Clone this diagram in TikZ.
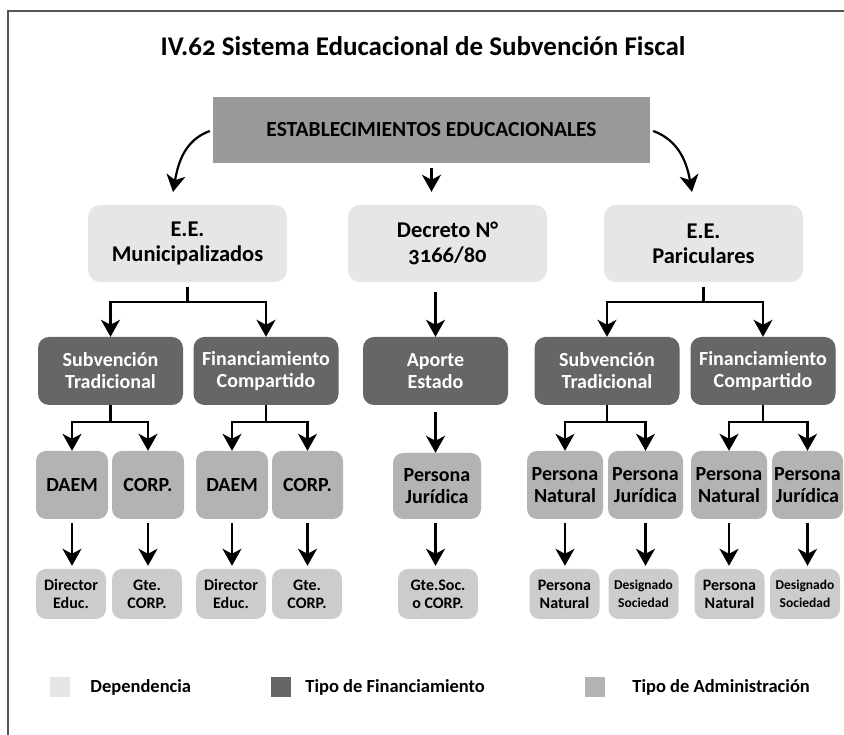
\documentclass[tikz,border=0pt]{standalone}
\usepackage{fontspec}
\setmainfont{Carlito}[Numbers=OldStyle]
\usetikzlibrary{arrows.meta, positioning, calc}
\definecolor{depgray}{HTML}{E6E6E6}
\definecolor{fingray}{HTML}{666666}
\definecolor{admgray}{HTML}{B3B3B3}
\definecolor{resgray}{HTML}{CCCCCC}
\definecolor{topgray}{HTML}{999999}
\definecolor{framegray}{HTML}{555555}

\tikzset{
  box/.style={align=center, inner sep=0pt},
  topbox/.style={box, fill=topgray, minimum width=437pt, minimum height=66pt, font=\fontsize{21.5}{24}\selectfont\bfseries},
  depbox/.style={box, fill=depgray, rounded corners=12pt, minimum width=199pt, minimum height=77pt, font=\fontsize{22.5}{25}\selectfont\bfseries},
  finbox/.style={box, fill=fingray, text=white, rounded corners=11pt, minimum width=145pt, minimum height=68pt, font=\fontsize{20}{22}\selectfont\bfseries},
  admbox/.style={box, fill=admgray, rounded corners=10pt, minimum height=68pt, font=\fontsize{20}{22}\selectfont\bfseries},
  resbox/.style={box, fill=resgray, rounded corners=10pt, minimum width=70pt, minimum height=50pt, font=\fontsize{16}{18}\selectfont\bfseries},
  legsq/.style={minimum size=20pt, inner sep=0pt},
  legtxt/.style={inner sep=0pt, font=\fontsize{18.5}{20}\selectfont\bfseries},
  link/.style={line width=2.2pt},
  arr/.style={link, -{Stealth[length=17pt, width=19pt, inset=5pt]}},
}

\begin{document}
\begin{tikzpicture}[x=1pt, y=1pt]
  \useasboundingbox (0,0) rectangle (844,735);
  % frame
  \draw[framegray, line width=2pt] (844,724) -- (8,724) -- (8,0);
  \node[font=\fontsize{27}{30}\selectfont\bfseries] (title) at (423,689) {IV.62 Sistema Educacional de Subvención Fiscal};

  \node[topbox] (estab) at (431.5,605) {ESTABLECIMIENTOS EDUCACIONALES};

  % Dependencia
  \node[depbox] (muni) at (187.5,491.5) {E.E.\\Municipalizados};
  \node[depbox] (decreto) at (447.5,491.5) {Decreto N°\\3166/80};
  \node[depbox] (part) at (703.5,491.5) {E.E.\\Pariculares};

  % Tipo de Financiamiento
  \node[finbox] (subvA) at (110.5,364) {Subvención\\Tradicional};
  \node[finbox] (finA) at (266,364) {Financiamiento\\Compartido};
  \node[finbox] (aporte) at (435.5,364) {Aporte\\Estado};
  \node[finbox] (subvB) at (607,364) {Subvención\\Tradicional};
  \node[finbox] (finB) at (763,364) {Financiamiento\\Compartido};

  % Tipo de Administracion
  \node[admbox, minimum width=72pt] (daemA) at (72,250) {DAEM};
  \node[admbox, minimum width=72pt] (corpA) at (148,250) {CORP.};
  \node[admbox, minimum width=72pt] (daemB) at (232,250) {DAEM};
  \node[admbox, minimum width=71pt] (corpB) at (307.5,250) {CORP.};
  \node[admbox, minimum width=88pt, minimum height=66pt] (jurC) at (437,249) {Persona\\Jurídica};
  \node[admbox, minimum width=76pt] (natA) at (565,250) {Persona\\Natural};
  \node[admbox, minimum width=75pt] (jurA) at (645.5,250) {Persona\\Jurídica};
  \node[admbox, minimum width=76pt] (natB) at (729,250) {Persona\\Natural};
  \node[admbox, minimum width=71pt] (jurB) at (807.5,250) {Persona\\Jurídica};

  % responsables
  \node[resbox] (dirA) at (71,141) {Director\\Educ.};
  \node[resbox] (gteA) at (147,141) {Gte.\\CORP.};
  \node[resbox] (dirB) at (231,141) {Director\\Educ.};
  \node[resbox] (gteB) at (307,141) {Gte.\\CORP.};
  \node[resbox, minimum width=80pt] (gteC) at (438,141) {Gte.Soc.\\o CORP.};
  \node[resbox] (pnA) at (564.5,141) {Persona\\Natural};
  \node[resbox, font=\fontsize{13.5}{18}\selectfont\bfseries] (desA) at (643.5,141) {Designado\\Sociedad};
  \node[resbox] (pnB) at (729.5,141) {Persona\\Natural};
  \node[resbox, font=\fontsize{13.5}{18}\selectfont\bfseries] (desB) at (805,141) {Designado\\Sociedad};

  % top level arrows
  \coordinate (ltip) at (173,543);
  \coordinate (rtip) at (692,543);
  \draw[arr] ([xshift=-3pt,yshift=-1pt]estab.west) to[out=200, in=80] (ltip);
  \draw[arr] ([xshift=3pt,yshift=-1pt]estab.east) to[out=-20, in=100] (rtip);
  \draw[arr, shorten <=5pt, shorten >=13pt] (estab.south) -- (estab.south |- decreto.north);

  % level 2 -> 3
  \draw[link] ([yshift=-5pt]muni.south) -- ++(0,-15) coordinate (mj);
  \draw[arr] (mj) -| (subvA.north);
  \draw[arr] (mj) -| (finA.north);
  \draw[arr, shorten <=10pt] (aporte.north |- decreto.south) -- (aporte.north);
  \draw[link] ([yshift=-5pt]part.south) -- ++(0,-15) coordinate (pj);
  \draw[arr] (pj) -| (subvB.north);
  \draw[arr] (pj) -| (finB.north);

  % level 3 -> 4
  \draw[link] (subvA.south) -- ++(0,-17) coordinate (sja);
  \draw[arr] (sja) -| (daemA.north);
  \draw[arr] (sja) -| (corpA.north);
  \draw[link] (finA.south) -- ++(0,-17) coordinate (fja);
  \draw[arr] (fja) -| (daemB.north);
  \draw[arr] (fja) -| (corpB.north);
  \draw[arr, shorten <=7pt] (aporte.south) -- (aporte.south |- jurC.north);
  \draw[link] (subvB.south) -- ++(0,-17) coordinate (sjb);
  \draw[arr] (sjb) -| (natA.north);
  \draw[arr] (sjb) -| (jurA.north);
  \draw[link] (finB.south) -- ++(0,-17) coordinate (fjb);
  \draw[arr] (fjb) -| (natB.north);
  \draw[arr] (fjb) -| (jurB.north);

  % level 4 -> 5
  \foreach \a/\b in {daemA/dirA, corpA/gteA, daemB/dirB, corpB/gteB, natA/pnA, jurA/desA, natB/pnB, jurB/desB}
    \draw[arr, shorten <=4pt, shorten >=3pt] (\a.south) -- (\a.south |- \b.north);
  \draw[arr, shorten <=4pt, shorten >=3pt] (jurC.south -| aporte.south) -- (aporte.south |- gteC.north);

  % legend
  \node[legsq, fill=depgray] (legdep) at (60,48) {};
  \node[legtxt, right=20pt of legdep] (legdeptxt) {Dependencia};
  \node[legsq, fill=fingray] (legfin) at (281,48) {};
  \node[legtxt, right=14pt of legfin] (legfintxt) {Tipo de Financiamiento};
  \node[legsq, fill=admgray] (legadm) at (595,48) {};
  \node[legtxt, right=27pt of legadm] (legadmtxt) {Tipo de Administración};
\end{tikzpicture}
\end{document}
